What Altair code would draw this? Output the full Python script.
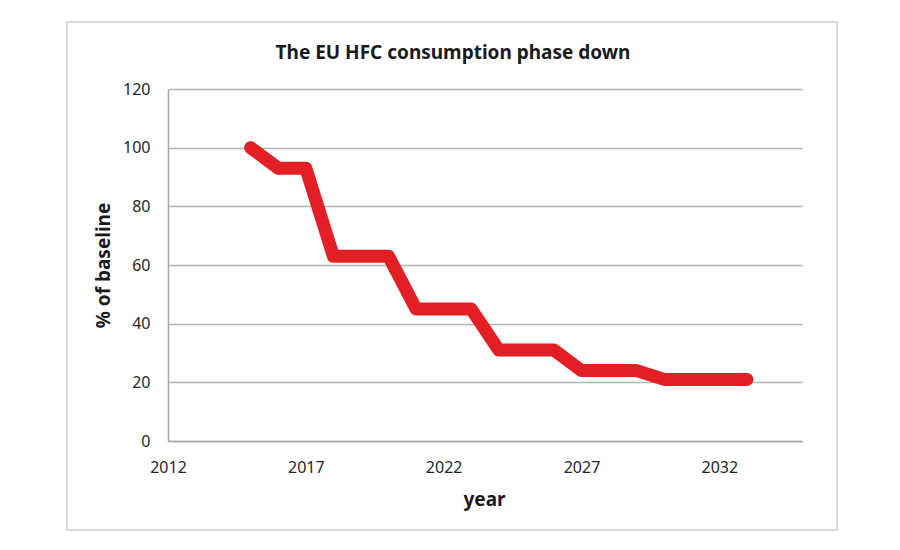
import altair as alt
import pandas as pd

years = [2015, 2016, 2017, 2018, 2019, 2020, 2021, 2022, 2023, 2024,
         2025, 2026, 2027, 2028, 2029, 2030, 2031, 2032, 2033]
pct = [100, 93, 93, 63, 63, 63, 45, 45, 45, 31,
       31, 31, 24, 24, 24, 21, 21, 21, 21]
x_ticks = [2012, 2017, 2022, 2027, 2032]
y_ticks = [0, 20, 40, 60, 80, 100, 120]

df = pd.DataFrame({"year": years, "pct": pct})

W, H = 634, 352
FONT = "Noto Sans"

border = alt.Chart(pd.DataFrame({"a": [0]})).mark_rect(
    fill="white", fillOpacity=0, stroke="#cfcfcf", strokeWidth=1.5
).encode(
    x=alt.value(-101), x2=alt.value(669), y=alt.value(-67), y2=alt.value(441)
)

title = alt.Chart(pd.DataFrame({"t": ["The EU HFC consumption phase down"]})).mark_text(
    font=FONT, fontSize=19, fontWeight="bold", color="#1a1a1a", align="center", baseline="middle"
).encode(x=alt.value(285), y=alt.value(-36), text="t:N")

line = alt.Chart(df).mark_line(
    color="#e31e24", strokeWidth=13, strokeCap="round", strokeJoin="round"
).encode(
    x=alt.X("year:Q", scale=alt.Scale(domain=[2012, 2035], nice=False, zero=False),
            axis=alt.Axis(values=x_ticks, format="d", title="year", grid=False,
                          domainColor="#a6a6a6", domainWidth=1.5, ticks=False,
                          labelFont=FONT, labelFontSize=16, labelColor="#262626",
                          labelPadding=18, labelFlush=False,
                          titleFont=FONT, titleFontSize=19, titleFontWeight="bold",
                          titleColor="#1a1a1a", titleX=316, titleY=58,
                          titleAlign="center", titleBaseline="middle")),
    y=alt.Y("pct:Q", scale=alt.Scale(domain=[0, 120], nice=False),
            axis=alt.Axis(values=y_ticks, title="% of baseline", grid=True,
                          gridColor="#b3b3b3", gridWidth=1.5,
                          domainColor="#a6a6a6", domainWidth=1.5, ticks=False,
                          labelFont=FONT, labelFontSize=16, labelColor="#262626",
                          labelPadding=18,
                          titleFont=FONT, titleFontSize=19, titleFontWeight="bold",
                          titleColor="#1a1a1a", titleX=-65, titleY=176,
                          titleAngle=-90, titleAlign="center", titleBaseline="middle")),
)

chart = alt.layer(border, title, line).properties(
    width=W, height=H,
    autosize=alt.AutoSizeParams(type="none"),
    padding={"left": 168, "top": 89, "right": 98, "bottom": 109},
    background="white",
).configure_view(stroke=None)

chart.save("out.html", embed_options={"renderer": "svg", "actions": False})
